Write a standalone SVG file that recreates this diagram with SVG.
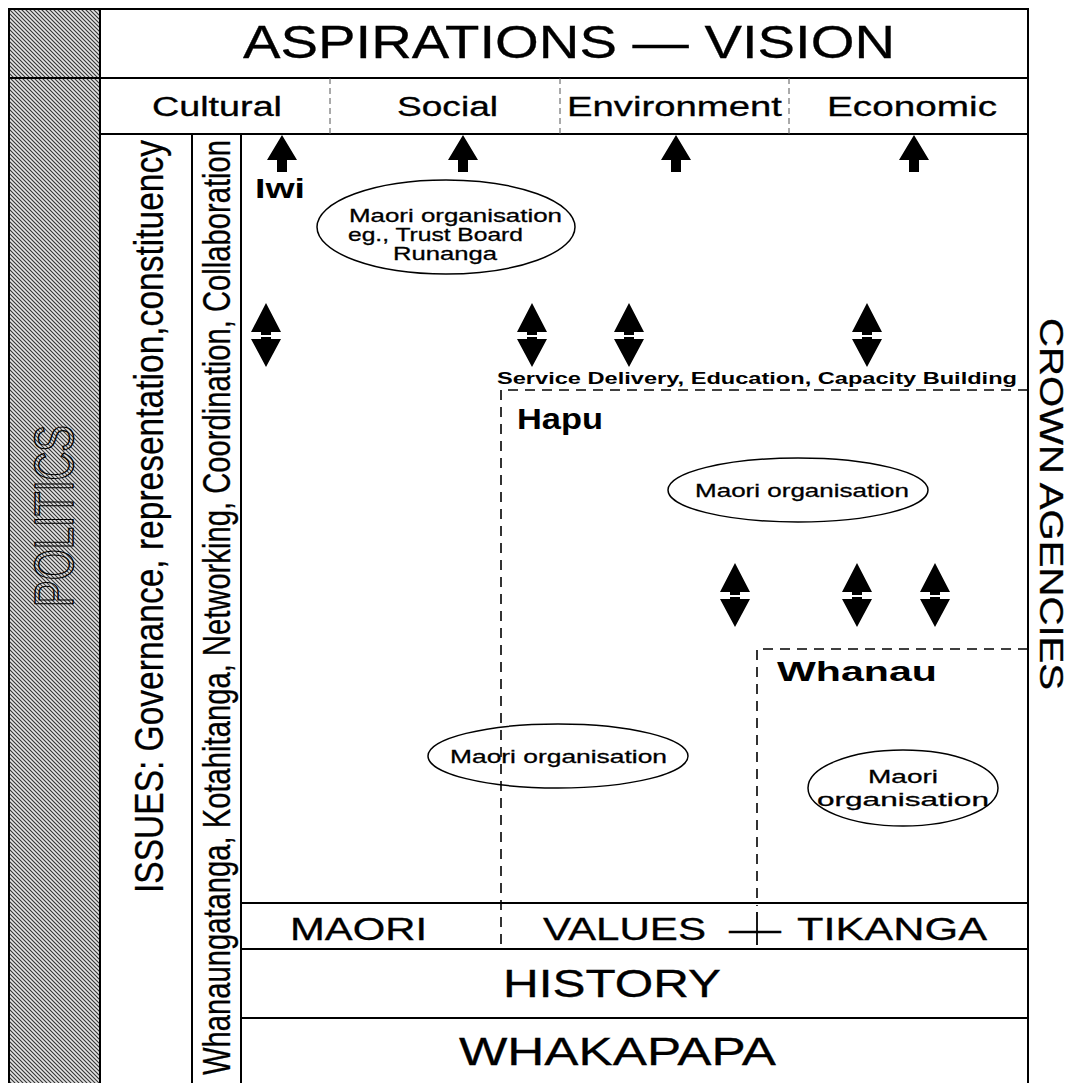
<svg xmlns="http://www.w3.org/2000/svg" width="1083" height="1083" viewBox="0 0 1083 1083">
<defs>
<pattern id="hatch" width="4" height="4" patternUnits="userSpaceOnUse">
<rect width="4" height="4" fill="#e3e3e3"/>
<path d="M-1,-1 L5,5 M-1,3 L1,5 M3,-1 L5,1" stroke="#333" stroke-width="1.1"/>
</pattern>
<polygon id="up" points="0,0 15,25 5,25 5,37 -5,37 -5,25 -15,25"/>
<g id="dbl">
<polygon points="0,0 15,29 5,29 5,32 -5,32 -5,29 -15,29"/>
<polygon points="-5,34 5,34 5,36 15,36 0,64 -15,36 -5,36"/>
</g>
</defs>
<style>
text{font-family:"Liberation Sans",Arial,sans-serif;fill:#000;stroke:#000;stroke-width:0.3}
.b{font-weight:bold;stroke:none}
.frame{fill:none;stroke:#000;stroke-width:2}
.dash{fill:none;stroke:#000;stroke-width:1.6;stroke-dasharray:10,7}
.cdash{fill:none;stroke:#555;stroke-width:1;stroke-dasharray:6,4}
.org{fill:#fff;stroke:#000;stroke-width:1.5}
.arrow{fill:#000}
</style>
<rect width="1083" height="1083" fill="#fff"/>

<g id="politics">
<rect x="9" y="9" width="91" height="1080" fill="url(#hatch)" stroke="#000" stroke-width="2"/>
<line x1="9" y1="78" x2="100" y2="78" stroke="#000" stroke-width="2"/>
<text transform="translate(73,607) rotate(-90)" font-size="55" textLength="182" lengthAdjust="spacingAndGlyphs" style="fill:none;stroke:#000;stroke-width:1.4">POLITICS</text>
</g>

<g id="frame">
<path class="frame" d="M100,9 H1028 V1090 M100,78 H1028 M100,134 H1028 M192,134 V1090 M241,134 V1090 M241,903 H1028 M241,949 H1028 M241,1018 H1028"/>
</g>

<g id="aspirations">
<text x="243" y="58" font-size="46" textLength="652" lengthAdjust="spacingAndGlyphs">ASPIRATIONS — VISION</text>
</g>

<g id="categories">
<path class="cdash" d="M330,78 V134 M560,78 V134 M789,78 V134"/>
<text x="152" y="116" font-size="27" textLength="130" lengthAdjust="spacingAndGlyphs">Cultural</text>
<text x="397" y="116" font-size="27" textLength="101" lengthAdjust="spacingAndGlyphs">Social</text>
<text x="567" y="116" font-size="27" textLength="215" lengthAdjust="spacingAndGlyphs">Environment</text>
<text x="827" y="116" font-size="27" textLength="170" lengthAdjust="spacingAndGlyphs">Economic</text>
</g>

<g id="issues">
<text transform="translate(163,893) rotate(-90)" font-size="40" textLength="753" lengthAdjust="spacingAndGlyphs">ISSUES: Governance, representation,constituency</text>
</g>

<g id="whanaungatanga">
<text transform="translate(230,1075) rotate(-90)" font-size="38" textLength="935" lengthAdjust="spacingAndGlyphs">Whanaungatanga, Kotahitanga, Networking, Coordination, Collaboration</text>
</g>

<g id="crown-agencies">
<text transform="translate(1040,318) rotate(90)" font-size="34" textLength="372" lengthAdjust="spacingAndGlyphs">CROWN AGENCIES</text>
</g>

<g id="iwi">
<text class="b" x="255" y="198" font-size="28" textLength="50" lengthAdjust="spacingAndGlyphs">Iwi</text>
</g>

<g id="iwi-org">
<ellipse class="org" cx="446" cy="227" rx="129" ry="47"/>
<text x="349" y="222" font-size="19" textLength="213" lengthAdjust="spacingAndGlyphs">Maori organisation</text>
<text x="348" y="241" font-size="19" textLength="175" lengthAdjust="spacingAndGlyphs">eg., Trust Board</text>
<text x="393" y="260" font-size="19" textLength="104" lengthAdjust="spacingAndGlyphs">Runanga</text>
</g>

<g id="hapu">
<path class="dash" d="M1028,390 H501 V948"/>
<text class="b" x="497" y="384" font-size="17" textLength="520" lengthAdjust="spacingAndGlyphs">Service Delivery, Education, Capacity Building</text>
<text class="b" x="517" y="429" font-size="29" textLength="86" lengthAdjust="spacingAndGlyphs">Hapu</text>
</g>

<g id="hapu-org">
<ellipse class="org" cx="798" cy="490" rx="130" ry="32"/>
<text x="695" y="497" font-size="19" textLength="214" lengthAdjust="spacingAndGlyphs">Maori organisation</text>
</g>

<g id="whanau">
<path class="dash" d="M1028,649 H757 V906"/>
<path d="M757,912 V945" stroke="#000" stroke-width="1.8" fill="none"/>
<text class="b" x="777" y="681" font-size="27" textLength="160" lengthAdjust="spacingAndGlyphs">Whanau</text>
</g>

<g id="hapu-org-2">
<ellipse class="org" cx="558" cy="756" rx="130" ry="32" style="fill:none"/>
<text x="450" y="763" font-size="19" textLength="217" lengthAdjust="spacingAndGlyphs">Maori organisation</text>
</g>

<g id="whanau-org">
<ellipse class="org" cx="903" cy="788" rx="95" ry="38"/>
<text x="903" y="783" font-size="19" text-anchor="middle" textLength="70" lengthAdjust="spacingAndGlyphs">Maori</text>
<text x="903" y="806" font-size="19" text-anchor="middle" textLength="172" lengthAdjust="spacingAndGlyphs">organisation</text>
</g>

<g id="maori-values">
<text x="290" y="940" font-size="32" textLength="137" lengthAdjust="spacingAndGlyphs">MAORI</text>
<text y="940" font-size="32"><tspan x="543" textLength="163" lengthAdjust="spacingAndGlyphs">VALUES</tspan> <tspan x="729" textLength="52" lengthAdjust="spacingAndGlyphs">—</tspan> <tspan x="797" textLength="190" lengthAdjust="spacingAndGlyphs">TIKANGA</tspan></text>
</g>

<g id="history">
<text x="503" y="997" font-size="38" textLength="218" lengthAdjust="spacingAndGlyphs">HISTORY</text>
</g>

<g id="whakapapa">
<text x="459" y="1065" font-size="38" textLength="317" lengthAdjust="spacingAndGlyphs">WHAKAPAPA</text>
</g>

<g id="connectors" class="arrow">
<use href="#up" x="282" y="135"/>
<use href="#up" x="463" y="135"/>
<use href="#up" x="676" y="135"/>
<use href="#up" x="914" y="135"/>
<use href="#dbl" x="266" y="303"/>
<use href="#dbl" x="532" y="303"/>
<use href="#dbl" x="629" y="303"/>
<use href="#dbl" x="867" y="303"/>
<use href="#dbl" x="735" y="563"/>
<use href="#dbl" x="857" y="563"/>
<use href="#dbl" x="935" y="563"/>
</g>
</svg>
